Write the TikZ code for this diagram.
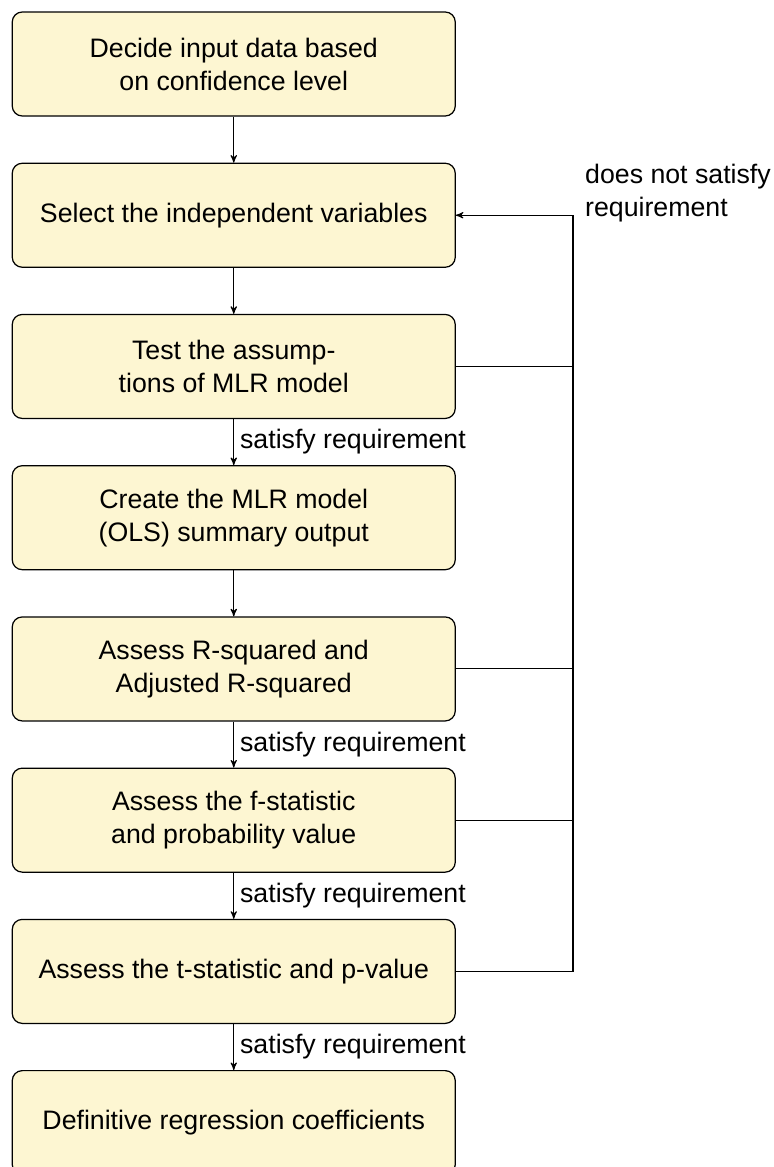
\documentclass[tikz,border=0pt]{standalone}
\usepackage{fontspec}
\setmainfont{Liberation Sans}
\usetikzlibrary{arrows,positioning}

\definecolor{boxfill}{HTML}{FDF6D2}

\tikzset{
  stepbox/.style={draw, rounded corners=0.2cm, fill=boxfill, line width=0.7pt,
    minimum width=8.86cm, minimum height=2.08cm, align=center,
    font=\fontsize{15.2}{18.8}\selectfont},
  flow/.style={->, >=stealth', line width=0.6pt},
  lbl/.style={font=\fontsize{15.2}{18.8}\selectfont}
}

\begin{document}
\begin{tikzpicture}[node distance=0.92cm]
  \useasboundingbox (0,0) rectangle (15.48,-23.34);
  \node[stepbox] (input) at (4.675,-1.28) {Decide input data based\\on confidence level};
  \node[stepbox, below=of input] (select) {Select the independent variables};
  \node[stepbox, below=of select] (assume) {Test the assump-\\tions of MLR model};
  \node[stepbox, below=of assume] (ols) {Create the MLR model\\(OLS) summary output};
  \node[stepbox, below=of ols] (rsq) {Assess R-squared and\\Adjusted R-squared};
  \node[stepbox, below=of rsq] (fstat) {Assess the f-statistic\\and probability value};
  \node[stepbox, below=of fstat] (tstat) {Assess the t-statistic and p-value};
  \node[stepbox, below=of tstat] (coef) {Definitive regression coefficients};
  \coordinate (rail) at (11.46,0);

  \path[flow]
  (input) edge (select)
  (select) edge (assume)
  (assume) edge node [lbl, right] {satisfy requirement} (ols)
  (ols) edge (rsq)
  (rsq) edge node [lbl, right] {satisfy requirement} (fstat)
  (fstat) edge node [lbl, right] {satisfy requirement} (tstat)
  (tstat) edge node [lbl, right] {satisfy requirement} (coef)
  ;

  % loop back when a check fails
  \draw[flow] (tstat.east) -- (tstat.east -| rail) |- (select.east);
  \draw[line width=0.6pt] (assume.east) -- (assume.east -| rail);
  \draw[line width=0.6pt] (rsq.east) -- (rsq.east -| rail);
  \draw[line width=0.6pt] (fstat.east) -- (fstat.east -| rail);
  \node[lbl, align=left, anchor=west] (nosat) at (11.58,-3.86) {does not satisfy\\requirement};
\end{tikzpicture}
\end{document}
